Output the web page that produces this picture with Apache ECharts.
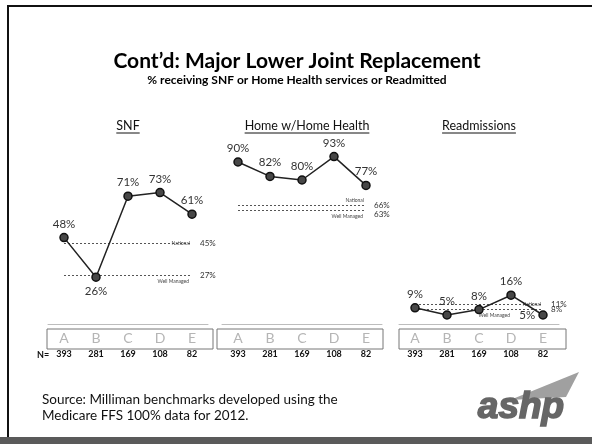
<!DOCTYPE html>
<html><head><meta charset="utf-8">
<script src="https://cdn.jsdelivr.net/npm/echarts@6/dist/echarts.min.js"></script>
<style>html,body{margin:0;padding:0;background:#fff}#c{width:592px;height:444px}</style>
</head><body><div id="c"></div>
<script>
const categories = ['A', 'B', 'C', 'D', 'E'];
const nCounts = [393, 281, 169, 108, 82];
const panelTitles = ['SNF', 'Home w/Home Health', 'Readmissions'];
const snf = [48, 26, 71, 73, 61];
const homeHealth = [90, 82, 80, 93, 77];
const readmissions = [9, 5, 8, 16, 5];
const nationalRates = [45, 66, 11];
const wellManagedRates = [27, 63, 8];

const FONT = 'Lato, "Open Sans", sans-serif';
const panels = [snf, homeHealth, readmissions];
const labelPos = [
  ['top', 'bottom', 'top', 'top', 'top'],
  ['top', 'top', 'top', 'top', 'top'],
  ['top', 'top', 'top', 'top', 'left']
];
const gridLefts = [48, 222, 399];
const natPos = ['insideEnd', 'insideEndTop', 'insideEnd'];
const shiftWm = [false, true, false];

const grids = [], xAxes = [], yAxes = [], series = [];
panels.forEach((vals, p) => {
  grids.push({ left: gridLefts[p], width: 160, top: 144, height: 180 });
  xAxes.push({
    type: 'category', gridIndex: p, data: categories,
    axisLine: { lineStyle: { color: '#bdbdbd', width: 1 } },
    axisTick: { inside: true, length: 3, interval: 0, lineStyle: { color: '#bdbdbd' } },
    axisLabel: {
      margin: 6, interval: 0,
      formatter: (v, i) => '{l|' + v + '}\n{n|' + nCounts[i] + '}',
      rich: {
        l: { fontSize: 14, color: '#b5b5b5', lineHeight: 17, fontFamily: FONT },
        n: { fontSize: 9, fontWeight: 'bold', color: '#111', lineHeight: 15, fontFamily: FONT }
      }
    }
  });
  yAxes.push({ type: 'value', gridIndex: p, min: 0, max: 100, show: false });
  const nat = nationalRates[p], wm = wellManagedRates[p];
  const dotted = { type: [2, 2], color: '#555', width: 1 };
  const hidden = { color: 'rgba(0,0,0,0)', width: 0.01 };
  series.push({
    type: 'line', xAxisIndex: p, yAxisIndex: p,
    data: vals.map((v, i) => ({ value: v, label: { position: labelPos[p][i] } })),
    symbol: 'circle', symbolSize: 8,
    itemStyle: { color: '#474747', borderColor: '#111', borderWidth: 1.5 },
    lineStyle: { color: '#222', width: 1.5 },
    label: { show: true, formatter: '{c}%', fontSize: 11.5, color: '#333', distance: 3, fontFamily: FONT },
    z: 5,
    markLine: {
      silent: true, symbol: 'none', animation: false,
      data: [
        [{ coord: [categories[0], nat], lineStyle: dotted,
           label: { show: true, position: 'end', formatter: nat + '%', fontSize: 8, lineHeight: 8, color: '#333', distance: 8, fontFamily: FONT } },
         { coord: [categories[4], nat] }],
        [{ coord: [categories[0], wm], lineStyle: dotted,
           label: { show: true, position: 'end', formatter: shiftWm[p] ? '{e|}\n' + wm + '%' : wm + '%', rich: { e: { height: 8 } }, fontSize: 8, lineHeight: 8, color: '#333', distance: 8, fontFamily: FONT } },
         { coord: [categories[4], wm] }],
        [{ coord: [categories[0], nat], lineStyle: hidden,
           label: { show: true, position: natPos[p], formatter: 'National', fontSize: 5, color: '#444', distance: 2, fontFamily: FONT } },
         { coord: [categories[4], nat] }],
        [{ coord: [categories[0], wm], lineStyle: hidden,
           label: { show: true, position: 'insideEndBottom', formatter: p === 2 ? '{a|Well Managed}{b|}' : 'Well Managed', rich: { a: { fontSize: 5, color: '#444', fontFamily: FONT }, b: { width: 30 } }, fontSize: 5, color: '#444', distance: 3, fontFamily: FONT } },
         { coord: [categories[4], wm] }]
      ]
    }
  });
});

const graphics = [
  { type: 'rect', shape: { x: 7, y: 5, width: 585, height: 2 }, style: { fill: '#111' } },
  { type: 'rect', shape: { x: 7, y: 5, width: 2, height: 439 }, style: { fill: '#111' } },
  { type: 'rect', shape: { x: 0, y: 437, width: 592, height: 7 }, style: { fill: '#5a5a5a' } },
  { type: 'text', x: 297, y: 61, style: { text: "Cont\u2019d: Major Lower Joint Replacement", fontSize: 21, fontWeight: 'bold', fontFamily: FONT, fill: '#000', align: 'center', verticalAlign: 'middle' } },
  { type: 'text', x: 297, y: 80, style: { text: '% receiving SNF or Home Health services or Readmitted', fontSize: 12, fontWeight: 'bold', fontFamily: FONT, fill: '#000', align: 'center', verticalAlign: 'middle' } },
  { type: 'rect', shape: { x: 47, y: 329, width: 166, height: 20 }, style: { fill: 'none', stroke: '#777', lineWidth: 1 } },
  { type: 'rect', shape: { x: 217, y: 329, width: 166, height: 20 }, style: { fill: 'none', stroke: '#777', lineWidth: 1 } },
  { type: 'rect', shape: { x: 399, y: 329, width: 167, height: 20 }, style: { fill: 'none', stroke: '#777', lineWidth: 1 } },
  { type: 'text', x: 37, y: 355, style: { text: 'N=', fontSize: 9, fontWeight: 'bold', fontFamily: FONT, fill: '#111', align: 'left', verticalAlign: 'middle' } },
  { type: 'text', x: 42, y: 400, style: { text: 'Source: Milliman benchmarks developed using the', fontSize: 13.5, fontFamily: FONT, fill: '#111', align: 'left', verticalAlign: 'middle' } },
  { type: 'text', x: 42, y: 416, style: { text: 'Medicare FFS 100% data for 2012.', fontSize: 13.5, fontFamily: FONT, fill: '#111', align: 'left', verticalAlign: 'middle' } },
  { type: 'polygon', shape: { points: [[510, 400], [579, 372], [566, 397]] }, style: { fill: '#a0a0a0' } },
  { type: 'text', x: 521, y: 408, style: { text: 'ashp', fontSize: 37, fontWeight: 'bold', fontStyle: 'italic', fontFamily: '"Liberation Sans", Arial, sans-serif', fill: '#666', stroke: '#666', lineWidth: 1.6, align: 'center', verticalAlign: 'middle' } }
];
const titleCenters = [128, 307, 479];
panelTitles.forEach((t, p) => {
  graphics.push({ type: 'text', x: titleCenters[p], y: 126, style: { text: t, fontSize: 12.5, fontFamily: FONT, fill: '#111', align: 'center', verticalAlign: 'middle' } });
});

const chart = echarts.init(document.getElementById('c'));
chart.setOption({
  animation: false,
  grid: grids, xAxis: xAxes, yAxis: yAxes, series: series,
  graphic: graphics
});
const extra = [];
panelTitles.forEach((t, p) => {
  const w = echarts.format.getTextRect ? echarts.format.getTextRect(t, '12.5px ' + FONT).width : t.length * 6.5;
  extra.push({ type: 'line', shape: { x1: titleCenters[p] - w / 2, y1: 133, x2: titleCenters[p] + w / 2, y2: 133 }, style: { stroke: '#111', lineWidth: 1 } });
});
chart.setOption({ graphic: graphics.concat(extra) });
</script>
</body></html>
